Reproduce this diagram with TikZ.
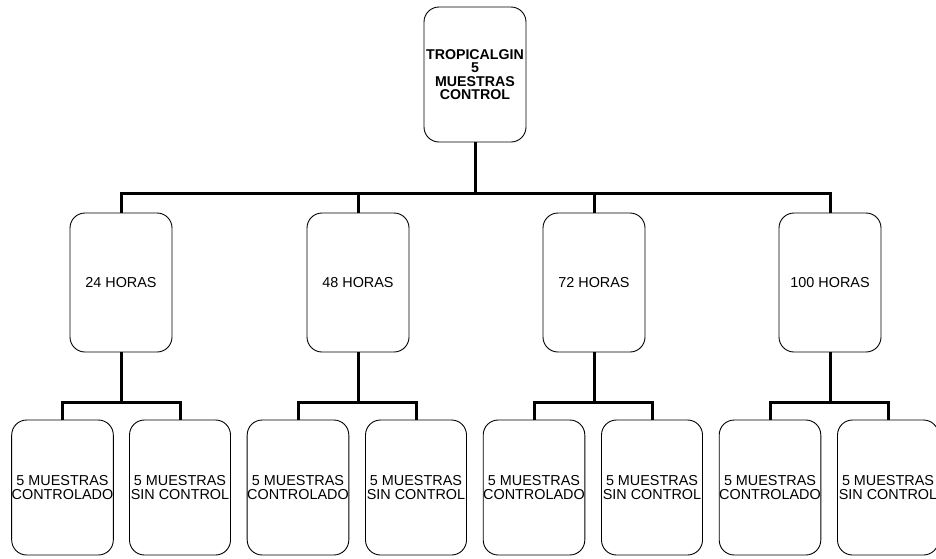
\documentclass[tikz,border=0pt]{standalone}
\usepackage{fontspec}
\setmainfont{Liberation Sans}
\begin{document}
\begin{tikzpicture}[x=1pt,y=-1pt,
  box/.style={draw=black, line width=0.9pt, rounded corners=15pt, fill=white,
    minimum width=102pt, inner sep=0pt, align=center,
    font=\fontsize{14.4}{13.5}\selectfont},
  topbox/.style={box, minimum height=135pt, font=\fontsize{14.2}{13.4}\selectfont\bfseries},
  midbox/.style={box, minimum height=139pt},
  leafbox/.style={box, minimum width=101pt, minimum height=135pt},
  conn/.style={line width=3pt}]
\useasboundingbox (0,0) rectangle (936,558);
\clip (0,0) rectangle (936,558);
\fill[white] (0,0) rectangle (936,558);

\node[topbox] (top) at (475,74.5) {TROPICALGIN\\5\\MUESTRAS\\CONTROL};

\node[midbox] (h1) at (121,282.5) {24 HORAS};
\node[midbox] (h2) at (358,282.5) {48 HORAS};
\node[midbox] (h3) at (594,282.5) {72 HORAS};
\node[midbox] (h4) at (830,282.5) {100 HORAS};

\node[leafbox] (a1) at (62.5,487.5) {5 MUESTRAS\\CONTROLADO};
\node[leafbox] (b1) at (180,487.5) {5 MUESTRAS\\SIN CONTROL};
\node[leafbox] (a2) at (298,487.5) {5 MUESTRAS\\CONTROLADO};
\node[leafbox] (b2) at (416,487.5) {5 MUESTRAS\\SIN CONTROL};
\node[leafbox] (a3) at (534,487.5) {5 MUESTRAS\\CONTROLADO};
\node[leafbox] (b3) at (652,487.5) {5 MUESTRAS\\SIN CONTROL};
\node[leafbox] (a4) at (770,487.5) {5 MUESTRAS\\CONTROLADO};
\node[leafbox] (b4) at (888,487.5) {5 MUESTRAS\\SIN CONTROL};

\coordinate (bar) at (475,193);
\foreach \h in {h1,h2,h3,h4}{
  \draw[conn] (top.south) -- (top.south |- bar) -| (\h.north);
}
\foreach \h/\a/\b in {h1/a1/b1,h2/a2/b2,h3/a3/b3,h4/a4/b4}{
  \draw[conn] (\h.south) -- ++(0,50) -| (\a.north);
  \draw[conn] (\h.south) -- ++(0,50) -| (\b.north);
}
\end{tikzpicture}
\end{document}
